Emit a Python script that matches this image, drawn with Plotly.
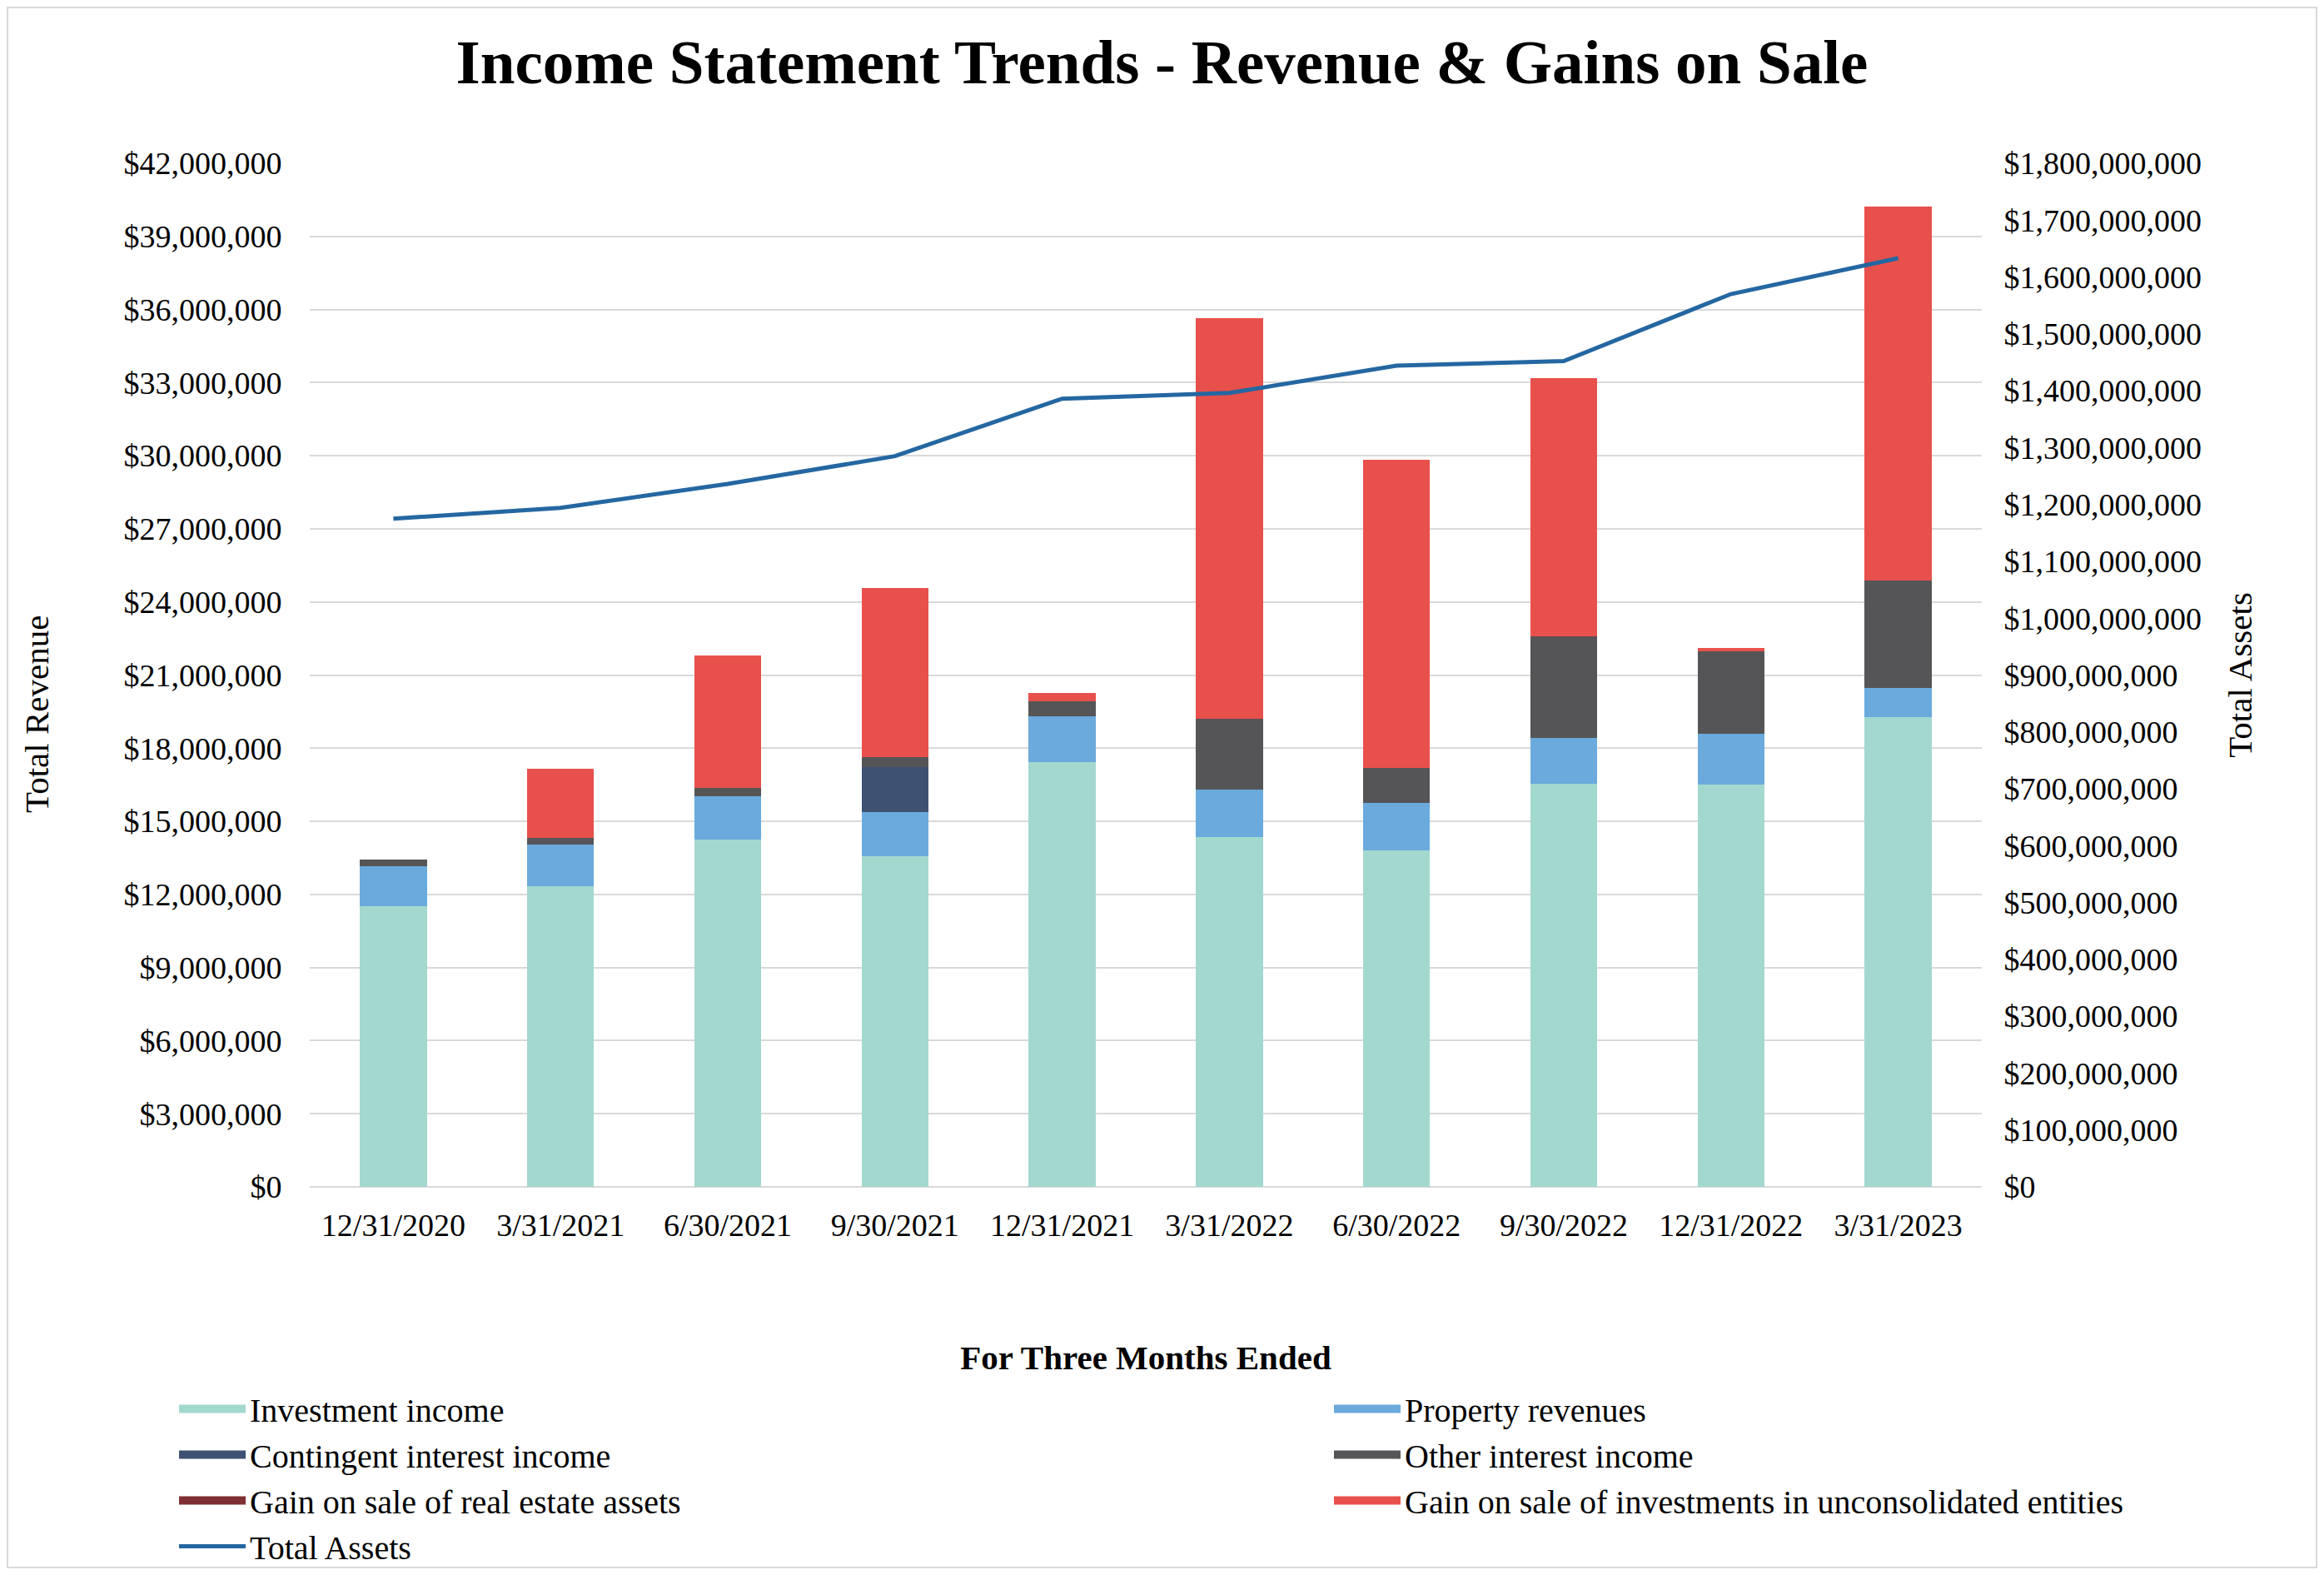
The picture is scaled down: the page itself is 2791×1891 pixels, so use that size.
#!/usr/bin/env python3
# Income statement trends: stacked revenue bars + total assets line

import plotly.graph_objects as go

# --- data ---
periods = ["12/31/2020", "3/31/2021", "6/30/2021", "9/30/2021", "12/31/2021",
           "3/31/2022", "6/30/2022", "9/30/2022", "12/31/2022", "3/31/2023"]

investment_income = [11_520_000, 12_330_000, 14_240_000, 13_560_000, 17_420_000,
                     14_370_000, 13_800_000, 16_530_000, 16_490_000, 19_260_000]
property_revenues = [1_630_000, 1_710_000, 1_780_000, 1_810_000, 1_900_000,
                     1_940_000, 1_940_000, 1_900_000, 2_100_000, 1_200_000]
contingent_interest = [0, 0, 0, 1_840_000, 0, 0, 0, 0, 0, 0]
other_interest = [280_000, 290_000, 340_000, 410_000, 620_000,
                  2_880_000, 1_460_000, 4_150_000, 3_380_000, 4_410_000]
gain_real_estate = [0, 0, 0, 0, 0, 0, 0, 0, 0, 0]
gain_unconsolidated = [0, 2_810_000, 5_450_000, 6_960_000, 310_000,
                       16_460_000, 12_650_000, 10_610_000, 140_000, 15_370_000]
total_assets = [1_175_000_000, 1_194_000_000, 1_236_000_000, 1_285_000_000, 1_386_000_000,
                1_396_000_000, 1_444_000_000, 1_452_000_000, 1_570_000_000, 1_633_000_000]

# name, values, colour, which legend column
bar_series = [
    ("Investment income", investment_income, "#A3D8CF", "legend"),
    ("Property revenues", property_revenues, "#6AAADD", "legend2"),
    ("Contingent interest income", contingent_interest, "#3E5173", "legend"),
    ("Other interest income", other_interest, "#555557", "legend2"),
    ("Gain on sale of real estate assets", gain_real_estate, "#7E2F31", "legend"),
    ("Gain on sale of investments in unconsolidated entities", gain_unconsolidated, "#E8504C", "legend2"),
]

FONT = "Liberation Serif, Times New Roman, serif"
# the page body keeps its default 8px margin, so the figure is 16px smaller
W, H = 2791 - 16, 1891 - 16
M = dict(l=364, r=403, t=188, b=458)
GRID = "#D9D9D9"


def main():
    fig = go.Figure()

    for name, vals, color, leg in bar_series:
        fig.add_trace(go.Bar(
            x=periods, y=vals, name=name, showlegend=False,
            marker=dict(color=color, line=dict(width=0)),
        ))

    # legend-only entries so the swatches come out as wide flat blocks like Excel's
    for name, vals, color, leg in bar_series:
        fig.add_trace(go.Scatter(
            x=[None], y=[None], name=name, legend=leg,
            mode="lines", line=dict(color=color, width=22),
            hoverinfo="skip",
        ))

    fig.add_trace(go.Scatter(
        x=periods, y=total_assets, name="Total Assets",
        mode="lines", yaxis="y2", legend="legend",
        line=dict(color="#2467A1", width=5),
    ))

    # frame around the whole picture, like the exported chart area
    pw = W - M["l"] - M["r"]
    ph = H - M["t"] - M["b"]
    fig.add_shape(
        type="rect", xref="paper", yref="paper",
        x0=-(M["l"] - 1) / pw, x1=1 + (M["r"] - 1) / pw,
        y0=-(M["b"] - 1) / ph, y1=1 + (M["t"] - 1) / ph,
        line=dict(color=GRID, width=2), layer="below",
    )

    # left axis title sits a bit below centre in the original
    fig.add_annotation(
        text="Total Revenue", textangle=-90,
        xref="paper", yref="paper",
        x=(36 - M["l"]) / pw, y=(H - M["b"] - 850) / ph,
        xanchor="center", yanchor="middle", showarrow=False,
        font=dict(size=41),
    )

    leg_common = dict(
        orientation="v", yanchor="top", y=-0.1904,
        xanchor="left", itemwidth=80,
        font=dict(size=40), traceorder="normal",
        bgcolor="rgba(0,0,0,0)",
    )

    fig.update_layout(
        width=W, height=H,
        margin=dict(M, autoexpand=False),
        paper_bgcolor="white", plot_bgcolor="white",
        font=dict(family=FONT, color="black", size=38),
        barmode="stack", bargap=0.6,
        title=dict(
            text="<b>Income Statement Trends - Revenue & Gains on Sale</b>",
            font=dict(family=FONT, size=75, color="black"),
            x=0.5, xanchor="center", y=1 - 66 / H, yanchor="middle",
        ),
        xaxis=dict(
            showgrid=False, showline=False, zeroline=False,
            tickfont=dict(size=38),
            ticks="outside", ticklen=12, tickcolor="white",
            title=dict(text="<b>For Three Months Ended</b>", font=dict(size=41), standoff=124),
        ),
        yaxis=dict(
            range=[0, 42_000_000], dtick=3_000_000, tickformat="$,.0f",
            showgrid=True, gridcolor=GRID, gridwidth=2,
            zeroline=True, zerolinecolor=GRID, zerolinewidth=2,
            showline=False, tickfont=dict(size=38),
            ticks="outside", ticklen=25, tickcolor="white",
        ),
        yaxis2=dict(
            range=[0, 1_800_000_000], dtick=100_000_000, tickformat="$,.0f",
            overlaying="y", side="right",
            showgrid=False, zeroline=False, showline=False,
            tickfont=dict(size=38),
            ticks="outside", ticklen=18, tickcolor="white",
            title=dict(text="Total Assets", font=dict(size=41), standoff=32),
        ),
        legend=dict(leg_common, x=(202 - M["l"]) / pw),
        legend2=dict(leg_common, x=(1589 - M["l"]) / pw),
        showlegend=True,
    )

    fig.write_html("out.html")


if __name__ == "__main__":
    main()
